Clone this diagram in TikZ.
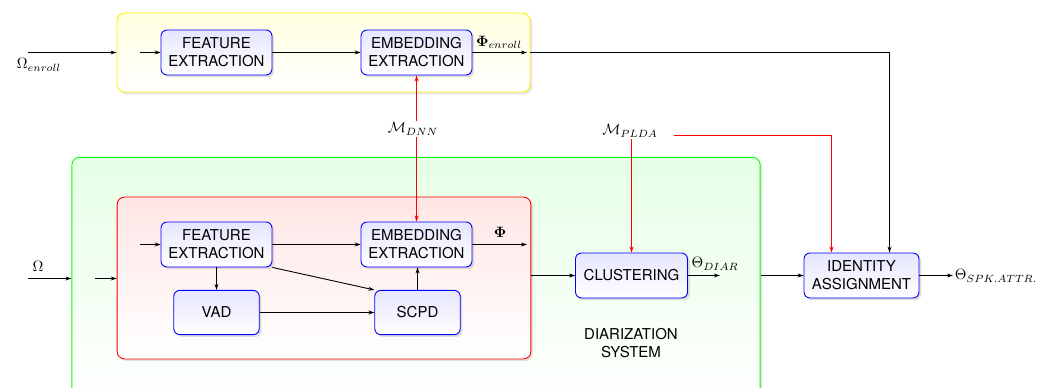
\documentclass[tikz,border=0pt]{standalone}
\usepackage[no-math]{fontspec}
\setsansfont{TeX Gyre Heros}
\usetikzlibrary{arrows.meta,shadows,positioning}
\begin{document}
\begin{tikzpicture}[x=0.667pt,y=-0.667pt,
  arr/.style={-{Stealth[length=4pt,width=2.6pt]},line width=0.6pt},
  redarr/.style={arr,draw=red,line width=0.667pt},
  block/.style={draw=blue,line width=0.6pt,rounded corners=4pt,
    top color=blue!10,bottom color=white,align=center,font=\sffamily,
    inner sep=1pt,drop shadow={opacity=0.25,shadow xshift=1.5pt,shadow yshift=-1.5pt}},
  wide/.style={block,minimum width=74pt,minimum height=30pt},
  small/.style={block,minimum width=57pt,minimum height=29.5pt},
  container/.style={rounded corners=5pt,line width=0.6pt,inner sep=0pt,
    drop shadow={opacity=0.2,shadow xshift=1.5pt,shadow yshift=-1.5pt}},
  lbl/.style={inner sep=1pt}]
\useasboundingbox (0,0) rectangle (1048,388);

% enclosing regions
\node[container,draw=yellow,top color=yellow!12,bottom color=white,
  minimum width=275.5pt,minimum height=52.7pt] (yellow) at (323.5,52.5) {};
\node[container,draw=green,top color=green!10,bottom color=white,
  minimum width=459pt,minimum height=165pt] (green) at (416,281) {};
\node[container,draw=red,top color=red!10,bottom color=white,
  minimum width=276pt,minimum height=108pt] (redbox) at (324,278) {};

% enrollment chain
\node[wide] (fe1) at (216.5,52.5) {FEATURE\\EXTRACTION};
\node[wide] (ee1) at (416.5,52.5) {EMBEDDING\\EXTRACTION};

% diarization chain
\node[wide] (fe2) at (216.5,244.5) {FEATURE\\EXTRACTION};
\node[wide] (ee2) at (416.5,244.5) {EMBEDDING\\EXTRACTION};
\node[small] (vad) at (216.5,312.5) {VAD};
\node[small] (scpd) at (417.5,312.5) {SCPD};
\node[wide,minimum width=74.7pt] (clus) at (631.5,275.5) {CLUSTERING};
\node[wide,minimum width=76.7pt] (ident) at (861.5,275.5) {IDENTITY\\ASSIGNMENT};
\node[font=\sffamily,align=center] (dsys) at (631,343) {DIARIZATION\\SYSTEM};

% models
\node[lbl] (mdnn) at (413,129) {$\mathcal{M}_{DNN}$};
\node[lbl] (mplda) at (630,131) {$\mathcal{M}_{PLDA}$};

% labels
\node[lbl] (omenr) at (39,65) {$\Omega_{enroll}$};
\node[lbl] (om) at (38,266) {$\Omega$};
\node[lbl] (phienr) at (499,42) {$\mathbf{\Phi}_{enroll}$};
\node[lbl] (phi) at (500,232) {$\mathbf{\Phi}$};
\node[lbl] (thd) at (715,264) {$\Theta_{DIAR}$};
\node[lbl,anchor=west] (ths) at (953,276) {$\Theta_{SPK.ATTR.}$};

% free ends
\coordinate (inE) at (28,52.5);
\coordinate (feE) at (140,52.5);
\coordinate (outE) at (527,52.5);
\coordinate (inD) at (28,278.5);
\coordinate (inR) at (95,278.5);
\coordinate (feD) at (140,244.5);
\coordinate (outD) at (527,244.5);
\coordinate (thdE) at (720,275.5);
\coordinate (cE) at (889.5,52.5);
\coordinate (cP) at (831.5,135.5);
\coordinate (pS) at (674,135.5);

% enrollment connectors
\draw[arr] (inE) -- (inE -| yellow.west);
\draw[arr] (feE) -- (fe1.west |- feE);
\draw[arr] (fe1) -- (ee1);
\draw[arr] (ee1.east |- outE) -- (outE);
\draw[arr] (yellow.east |- cE) -- (cE) -- (cE |- ident.north);
\draw[redarr] (mdnn.north -| ee1) -- (ee1.south);

% diarization connectors
\draw[arr] (inD) -- (inD -| green.west);
\draw[arr] (inR) -- (inR -| redbox.west);
\draw[arr] (feD) -- (fe2.west |- feD);
\draw[arr] (fe2) -- (ee2);
\draw[arr] (ee2.east |- outD) -- (outD);
\draw[arr] (fe2.south -| vad) -- (vad.north);
\draw[arr] (fe2.south east) -- (scpd.north west);
\draw[arr] (vad) -- (scpd);
\draw[arr] (scpd) -- (scpd |- ee2.south);
\draw[redarr] (mdnn.south -| ee2) -- (ee2.north);
\draw[arr] (redbox.east |- clus) -- (clus.west);
\draw[arr] (clus.east) -- (thdE);
\draw[redarr] (mplda.south -| clus) -- (clus.north);
\draw[redarr] (pS) -- (cP) -- (cP |- ident.north);
\draw[arr] (green.east |- ident) -- (ident.west);
\draw[arr] (ident.east) -- (ths.west |- ident);
\end{tikzpicture}
\end{document}
